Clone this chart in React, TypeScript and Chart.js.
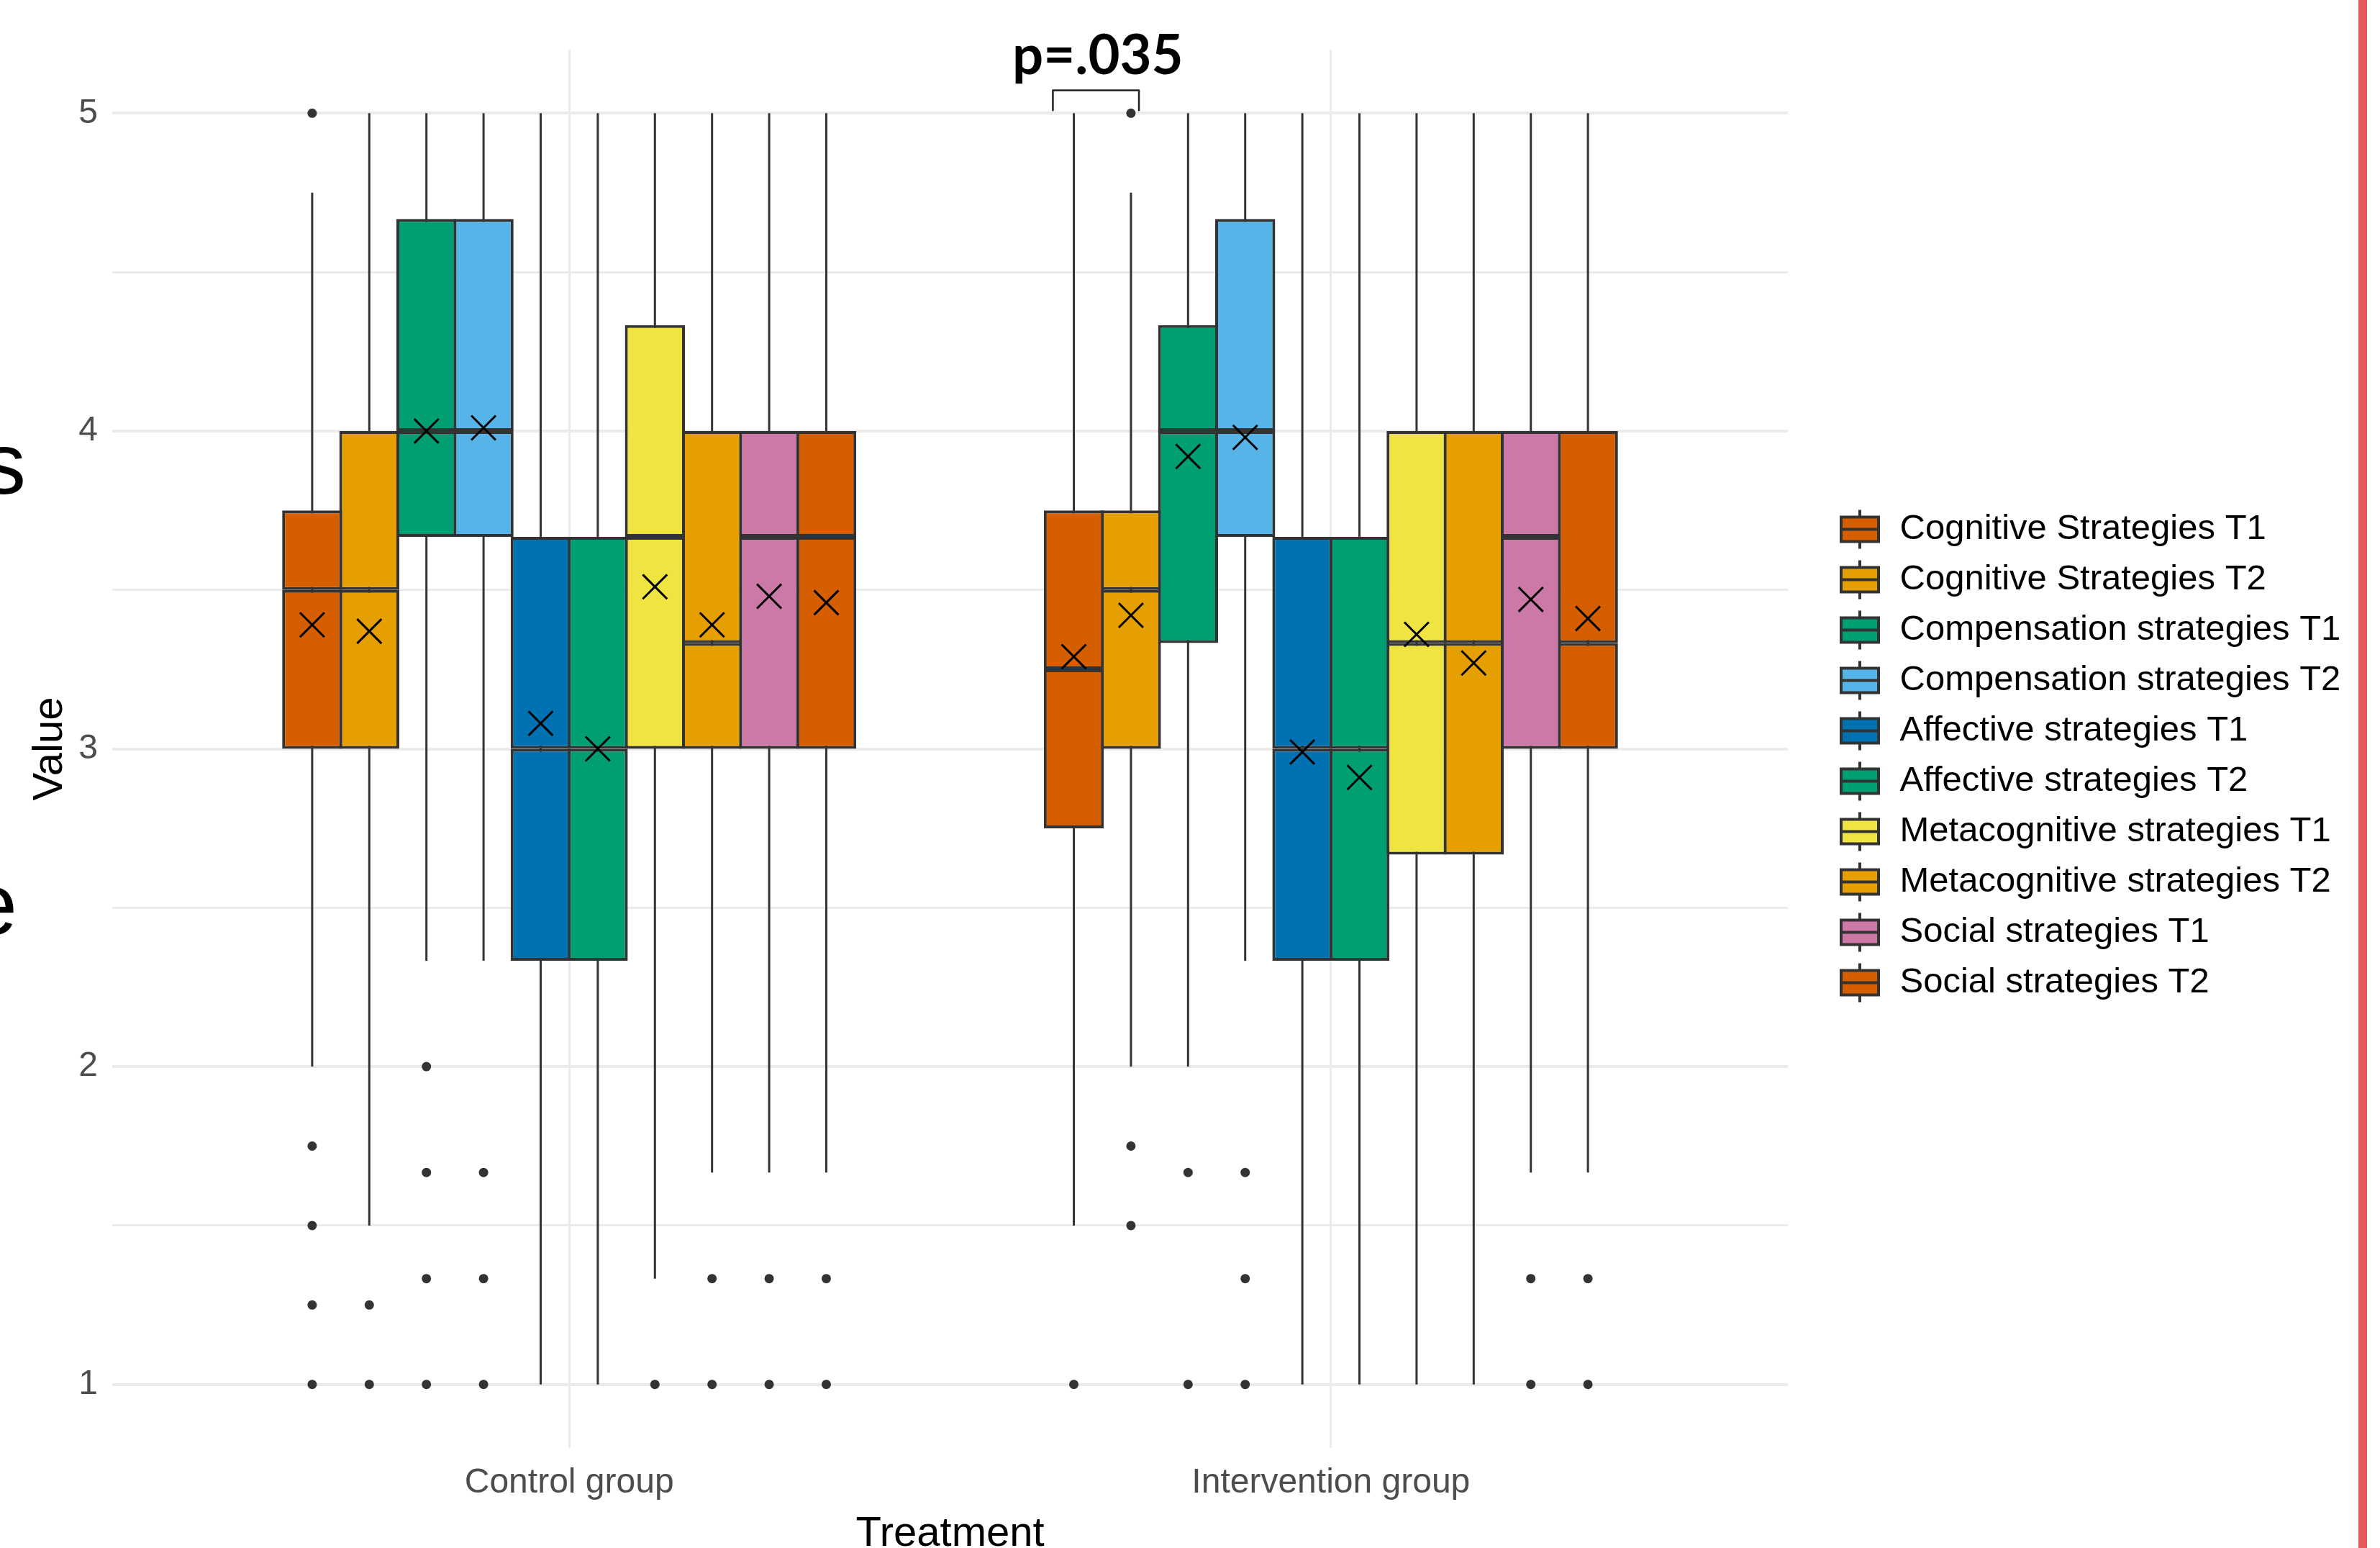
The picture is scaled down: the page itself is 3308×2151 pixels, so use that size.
import { useEffect, useRef } from 'react';
import { Chart, registerables } from 'chart.js';

Chart.register(...registerables);

// ---------------- data ----------------
const GROUPS = ['Control group', 'Intervention group'];

const SERIES = [
  'Cognitive Strategies T1',
  'Cognitive Strategies T2',
  'Compensation strategies T1',
  'Compensation strategies T2',
  'Affective strategies T1',
  'Affective strategies T2',
  'Metacognitive strategies T1',
  'Metacognitive strategies T2',
  'Social strategies T1',
  'Social strategies T2',
];

const COLORS = [
  '#D55E00', '#E69F00', '#009E73', '#56B4E9', '#0072B2',
  '#009E73', '#F0E442', '#E69F00', '#CC79A7', '#D55E00',
];

// each entry: [Control group, Intervention group]
const WHISKER_LOW = [
  [2, 1.5], [1.5, 2], [2.333, 2], [2.333, 2.333], [1, 1],
  [1, 1], [1.333, 1], [1.667, 1], [1.667, 1.667], [1.667, 1.667],
];
const Q1 = [
  [3, 2.75], [3, 3], [3.667, 3.333], [3.667, 3.667], [2.333, 2.333],
  [2.333, 2.333], [3, 2.667], [3, 2.667], [3, 3], [3, 3],
];
const MEDIAN = [
  [3.5, 3.25], [3.5, 3.5], [4, 4], [4, 4], [3, 3],
  [3, 3], [3.667, 3.333], [3.333, 3.333], [3.667, 3.667], [3.667, 3.333],
];
const Q3 = [
  [3.75, 3.75], [4, 3.75], [4.667, 4.333], [4.667, 4.667], [3.667, 3.667],
  [3.667, 3.667], [4.333, 4], [4, 4], [4, 4], [4, 4],
];
const WHISKER_HIGH = [
  [4.75, 5], [5, 4.75], [5, 5], [5, 5], [5, 5],
  [5, 5], [5, 5], [5, 5], [5, 5], [5, 5],
];
const MEAN = [
  [3.39, 3.29], [3.37, 3.42], [4.0, 3.92], [4.01, 3.98], [3.08, 2.99],
  [3.0, 2.91], [3.51, 3.36], [3.39, 3.27], [3.48, 3.47], [3.46, 3.41],
];
const OUTLIERS = [
  [[5, 1.75, 1.5, 1.25, 1], [1]],
  [[1.25, 1], [5, 1.75, 1.5]],
  [[2, 1.667, 1.333, 1], [1.667, 1]],
  [[1.667, 1.333, 1], [1.667, 1.333, 1]],
  [[], []],
  [[], []],
  [[1], []],
  [[1.333, 1], []],
  [[1.333, 1], [1.333, 1]],
  [[1.333, 1], [1.333, 1]],
];

const Y_TICKS = [1, 1.5, 2, 2.5, 3, 3.5, 4, 4.5, 5];

const P_LABEL = 'p=.035';
const P_LABEL_POS = [1.694, 5.122];
const BRACKET_X = [1.635, 1.748];
const BRACKET_Y = [5.007, 5.072];

// ---------------- layout / style ----------------
const W = 3308;
const H = 2151;
const PLOT_LEFT = 156;
const PLOT_RIGHT = 2485;
const PLOT_TOP = 69;
const PLOT_BOTTOM = 2012;
const X_MIN = 0.4;
const X_MAX = 2.6;
const DODGE = 0.075;
const FONT = "'Liberation Sans', Arial, sans-serif";
const TICK_FONT = 48;
const TITLE_FONT = 58;
const LEG_FONT = 49;
const LEG_PAD = 21;
const ICON_W = 110;
const ICON_H = 64;
const BOX_PX = ((PLOT_RIGHT - PLOT_LEFT) / (X_MAX - X_MIN)) * DODGE;
const BORDER = 4;
const WHISKER_PX = 3;

const pos = (i: number, g: number) => g + 1 + (i - (SERIES.length - 1) / 2) * DODGE;

function makeIcon(color: string): HTMLCanvasElement {
  const c = document.createElement('canvas');
  c.width = ICON_W;
  c.height = ICON_H;
  const g = c.getContext('2d')!;
  const cx = 79;
  const bw = 56;
  const bh = 38;
  const top = (ICON_H - bh) / 2;
  g.fillStyle = '#333333';
  g.fillRect(cx - 2, top - 8, 4, bh + 16);
  g.fillRect(cx - bw / 2, top, bw, bh);
  g.fillStyle = color;
  g.fillRect(cx - bw / 2 + 4, top + 4, bw - 8, bh - 8);
  g.fillStyle = '#333333';
  g.fillRect(cx - bw / 2, ICON_H / 2 - 2, bw, 4);
  return c;
}

const decorations = {
  id: 'decorations',
  afterDraw(chart: any) {
    const { ctx, scales } = chart;
    const x = scales.x;
    const y = scales.y;
    ctx.save();
    // significance bracket
    const bx0 = x.getPixelForValue(BRACKET_X[0]);
    const bx1 = x.getPixelForValue(BRACKET_X[1]);
    const by0 = y.getPixelForValue(BRACKET_Y[0]);
    const by1 = y.getPixelForValue(BRACKET_Y[1]);
    ctx.strokeStyle = '#222222';
    ctx.lineWidth = 2.5;
    ctx.lineJoin = 'round';
    ctx.beginPath();
    ctx.moveTo(bx0, by0);
    ctx.lineTo(bx0, by1);
    ctx.lineTo(bx1, by1);
    ctx.lineTo(bx1, by0);
    ctx.stroke();
    ctx.fillStyle = '#000000';
    ctx.font = "bold 76px Lato, 'Open Sans', sans-serif";
    ctx.textAlign = 'center';
    ctx.textBaseline = 'alphabetic';
    ctx.fillText(P_LABEL, x.getPixelForValue(P_LABEL_POS[0]), y.getPixelForValue(P_LABEL_POS[1]));
    // cropped fragments at the left edge
    ctx.font = `120px ${FONT}`;
    ctx.textAlign = 'right';
    ctx.fillText('s', 36, 686);
    ctx.fillText('e', 24, 1298);
    // red bar at the right edge
    ctx.fillStyle = '#E35B5B';
    ctx.fillRect(3278, 0, 12, H);
    ctx.restore();
  },
};

export default function App() {
  const ref = useRef<HTMLCanvasElement>(null);

  useEffect(() => {
    document.body.style.margin = '0';
    document.body.style.overflow = 'hidden';
    const canvas = ref.current!;

    const m = document.createElement('canvas').getContext('2d')!;
    m.font = `${LEG_FONT}px ${FONT}`;
    const maxText = Math.max(...SERIES.map((s) => m.measureText(s).width));
    const legendWidth = LEG_PAD + ICON_W + LEG_FONT / 2 + maxText + 10;
    const padRight = Math.max(0, W - PLOT_RIGHT - legendWidth);

    const icons = COLORS.map(makeIcon);

    const datasets: any[] = [];
    SERIES.forEach((name, i) => {
      datasets.push({
        type: 'bar',
        label: name + ' whisker',
        data: GROUPS.map((_, g) => ({ x: pos(i, g), y: [WHISKER_LOW[i][g], WHISKER_HIGH[i][g]] })),
        backgroundColor: '#333333',
        borderWidth: 0,
        grouped: false,
        categoryPercentage: 1,
        barPercentage: WHISKER_PX / BOX_PX,
        order: 3,
        xAxisID: 'x',
        yAxisID: 'y',
      });
      datasets.push({
        type: 'bar',
        label: name + ' lower',
        data: GROUPS.map((_, g) => ({ x: pos(i, g), y: [Q1[i][g], MEDIAN[i][g]] })),
        backgroundColor: COLORS[i],
        borderColor: '#333333',
        borderWidth: BORDER,
        borderSkipped: false,
        grouped: false,
        categoryPercentage: 1,
        barPercentage: 1 + BORDER / BOX_PX,
        order: 2,
        xAxisID: 'x',
        yAxisID: 'y',
      });
      datasets.push({
        type: 'bar',
        label: name + ' upper',
        data: GROUPS.map((_, g) => ({ x: pos(i, g), y: [MEDIAN[i][g], Q3[i][g]] })),
        backgroundColor: COLORS[i],
        borderColor: '#333333',
        borderWidth: BORDER,
        borderSkipped: false,
        grouped: false,
        categoryPercentage: 1,
        barPercentage: 1 + BORDER / BOX_PX,
        order: 2,
        xAxisID: 'x',
        yAxisID: 'y',
      });
    });

    const outlierPts: { x: number; y: number }[] = [];
    OUTLIERS.forEach((perGroup, i) =>
      perGroup.forEach((vals, g) => vals.forEach((v) => outlierPts.push({ x: pos(i, g), y: v })))
    );
    datasets.push({
      type: 'scatter',
      label: 'Outliers',
      data: outlierPts,
      pointStyle: 'circle',
      pointRadius: 6.5,
      backgroundColor: '#333333',
      borderWidth: 0,
      order: 1,
      xAxisID: 'x',
      yAxisID: 'y',
    });

    const meanPts: { x: number; y: number }[] = [];
    MEAN.forEach((perGroup, i) => perGroup.forEach((v, g) => meanPts.push({ x: pos(i, g), y: v })));
    datasets.push({
      type: 'scatter',
      label: 'Mean',
      data: meanPts,
      pointStyle: 'crossRot',
      pointRadius: 24,
      borderColor: '#000000',
      borderWidth: 3,
      order: 0,
      xAxisID: 'x',
      yAxisID: 'y',
    });

    const chart = new Chart(canvas, {
      type: 'bar',
      data: { datasets },
      plugins: [decorations],
      options: {
        responsive: false,
        animation: false,
        events: [],
        layout: { padding: { top: PLOT_TOP, left: 0, bottom: 0, right: padRight } },
        scales: {
          x: {
            type: 'linear',
            display: false,
            offset: false,
            min: X_MIN,
            max: X_MAX,
            ticks: { display: false, autoSkip: false },
            grid: { offset: false },
            afterBuildTicks: (s: any) => {
              s.ticks = [];
            },
          },
          x2: {
            type: 'linear',
            axis: 'x',
            position: 'bottom',
            offset: false,
            min: X_MIN,
            max: X_MAX,
            afterBuildTicks: (s: any) => {
              s.ticks = GROUPS.map((_, g) => ({ value: g + 1 }));
            },
            afterFit: (s: any) => {
              s.height = H - PLOT_BOTTOM;
            },
            ticks: {
              autoSkip: false,
              maxRotation: 0,
              padding: 20,
              color: '#4D4D4D',
              font: { family: FONT, size: TICK_FONT },
              callback: (_v: any, idx: number) => GROUPS[idx],
            },
            grid: { color: '#EBEBEB', lineWidth: 3, drawTicks: false, offset: false },
            border: { display: false },
            title: {
              display: true,
              text: 'Treatment',
              color: '#000000',
              font: { family: FONT, size: TITLE_FONT },
              padding: { top: 0, bottom: -16 },
            },
          } as any,
          y: {
            type: 'linear',
            min: 0.8,
            max: 5.2,
            afterBuildTicks: (s: any) => {
              s.ticks = Y_TICKS.map((v) => ({ value: v }));
            },
            afterFit: (s: any) => {
              s.width = PLOT_LEFT;
            },
            ticks: {
              autoSkip: false,
              padding: 20,
              color: '#4D4D4D',
              font: { family: FONT, size: TICK_FONT },
              callback: (v: any) => (Number.isInteger(v) ? String(v) : ''),
            },
            grid: {
              color: '#EBEBEB',
              drawTicks: false,
              lineWidth: (c: any) => (c.tick && Number.isInteger(c.tick.value) ? 4 : 3),
            },
            border: { display: false },
            title: {
              display: true,
              text: 'Value',
              color: '#000000',
              font: { family: FONT, size: TITLE_FONT },
              padding: { top: 35, bottom: 0 },
            },
          },
        },
        plugins: {
          tooltip: { enabled: false },
          legend: {
            display: true,
            position: 'right',
            align: 'center',
            fullSize: false,
            title: { display: true, text: ' ', font: { size: 10 }, padding: 4 },
            labels: {
              usePointStyle: true,
              pointStyleWidth: ICON_W,
              padding: LEG_PAD,
              color: '#000000',
              font: { family: FONT, size: LEG_FONT },
              generateLabels: () =>
                SERIES.map((name, i) => ({
                  text: name,
                  pointStyle: icons[i],
                  fillStyle: COLORS[i],
                  strokeStyle: '#333333',
                  lineWidth: 0,
                  hidden: false,
                  fontColor: '#000000',
                  textAlign: 'left',
                  datasetIndex: i,
                })) as any,
            },
          },
        },
      } as any,
    });

    return () => chart.destroy();
  }, []);

  return (
    <div style={{ width: W, height: H, background: '#ffffff' }}>
      <canvas ref={ref} width={W} height={H} style={{ display: 'block', width: W, height: H }} />
    </div>
  );
}
